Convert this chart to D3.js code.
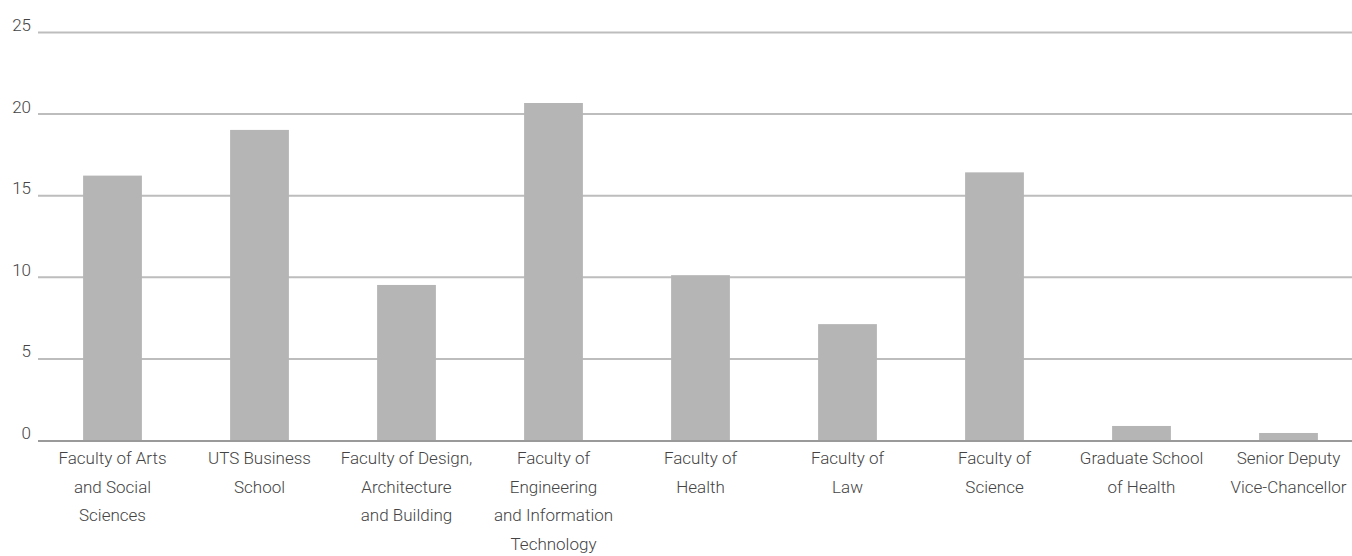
<!DOCTYPE html>
<html>
<head>
<meta charset="utf-8">
<script src="https://cdn.jsdelivr.net/npm/d3@7"></script>
<style>
	body { margin: 0; background: #fff; }
	svg text { font-family: Roboto, "Liberation Sans", sans-serif; font-size: 17px; font-weight: 300; fill: #444; }
</style>
</head>
<body>
<div id="chart"></div>
<script>
	// categories, one entry per bar (lines of the wrapped label)
	var categories = [
		['Faculty of Arts', 'and Social', 'Sciences'],
		['UTS Business', 'School'],
		['Faculty of Design,', 'Architecture', 'and Building'],
		['Faculty of', 'Engineering', 'and Information', 'Technology'],
		['Faculty of', 'Health'],
		['Faculty of', 'Law'],
		['Faculty of', 'Science'],
		['Graduate School', 'of Health'],
		['Senior Deputy', 'Vice-Chancellor']
	];
	var values = [16.2, 19.0, 9.5, 20.65, 10.1, 7.1, 16.4, 0.86, 0.43];
	var yTicks = [0, 5, 10, 15, 20, 25];

	const WIDTH = 1352;
	const HEIGHT = 556;
	const MARGIN = {
		TOP: 32,
		LEFT: 39,
		BOTTOM: 116,
		RIGHT: -10
	};

	var svg = d3.select('#chart').append('svg')
				.attr('width', WIDTH)
				.attr('height', HEIGHT);

	var keys = categories.map(function (d) { return d.join(' '); });

	var x = d3.scaleBand()
			.domain(keys)
			.range([MARGIN.LEFT, WIDTH - MARGIN.RIGHT])
			.paddingInner(0.6)
			.paddingOuter(0.3);

	var y = d3.scaleLinear()
			.domain([0, 25])
			.range([HEIGHT - MARGIN.BOTTOM, MARGIN.TOP]);

	// grid lines
	svg.append('g')
		.attr('class', 'grid')
		.selectAll('line')
		.data(yTicks.filter(function (d) { return d > 0; }))
		.enter().append('line')
		.attr('x1', 38)
		.attr('x2', WIDTH)
		.attr('y1', function (d) { return y(d) + 0.5; })
		.attr('y2', function (d) { return y(d) + 0.5; })
		.style('stroke', '#bdbdbd')
		.style('stroke-width', 2);

	// tick labels
	svg.append('g')
		.selectAll('text')
		.data(yTicks)
		.enter().append('text')
		.attr('x', 31)
		.attr('y', function (d) { return y(d) - 1; })
		.attr('text-anchor', 'end')
		.text(function (d) { return d; });

	// bars
	svg.append('g')
		.selectAll('rect')
		.data(values)
		.enter().append('rect')
		.attr('x', function (d, i) { return x(keys[i]); })
		.attr('y', function (d) { return y(d); })
		.attr('width', x.bandwidth())
		.attr('height', function (d) { return y(0) - y(d); })
		.attr('fill', '#b5b5b5');

	// baseline
	svg.append('line')
		.attr('x1', 38)
		.attr('x2', WIDTH)
		.attr('y1', y(0) + 1)
		.attr('y2', y(0) + 1)
		.style('stroke', '#9a9a9a')
		.style('stroke-width', 2);

	// category labels
	var labels = svg.append('g')
		.selectAll('text')
		.data(categories)
		.enter().append('text')
		.attr('text-anchor', 'middle')
		.attr('transform', function (d, i) {
			return 'translate(' + (x(keys[i]) + x.bandwidth() / 2) + ',464)';
		});

	labels.selectAll('tspan')
		.data(function (d) { return d; })
		.enter().append('tspan')
		.attr('x', 0)
		.attr('y', function (d, i) { return i * 28.7; })
		.text(function (d) { return d; });
</script>
</body>
</html>
